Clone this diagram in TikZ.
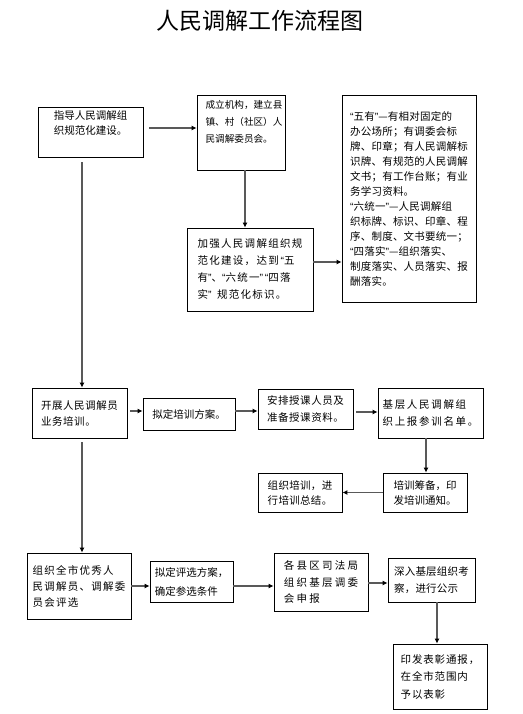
\documentclass[tikz,border=0pt]{standalone}
\usepackage{fontspec}
\newfontfamily\cjk{Noto Sans CJK SC}
\newfontfamily\latq{Liberation Sans}
\newcommand{\oq}{{\latq “}}
\newcommand{\cq}{{\latq ”}}
\newcommand{\ind}{\hspace*{6pt}}
\usetikzlibrary{arrows.meta,calc}
\newcommand{\bt}[2]{\cjk\fontsize{10.5}{#2}\selectfont\addfontfeatures{LetterSpace=#1}}
\newcommand{\bs}[2]{\cjk\fontsize{#1}{#2}\selectfont}
\tikzset{
  box/.style={draw=black, line width=0.8pt, align=left, inner sep=0pt},
  arr/.style={draw=gray!70!black, line width=1.2pt, -{Latex[length=5pt,width=5pt,color=black]}},
}
\begin{document}
\begin{tikzpicture}[x=1pt,y=-1pt]
\useasboundingbox (0,0) rectangle (522,714);
\node (title) at (260,21) {\cjk\fontsize{23}{23}\selectfont 人民调解工作流程图};

\node[box, minimum width=105pt, minimum height=50pt, font=\bt{0}{15}] (b1) at (90.5,132)
  {指导人民调解组\\织规范化建设。\\[4pt]};
\node[box, minimum width=88pt, minimum height=75pt, font=\bs{9.6}{17}] (b2) at (241,132.5)
  {\ind 成立机构，建立县\\\ind 镇、村（社区）人\\\ind 民调解委员会。\\ \strut};
\node[box, minimum width=126pt, minimum height=83pt, font=\bt{12}{17}] (b3) at (250,269.5)
  {加强人民调解组织规\\范化建设，达到\,\oq 五\\有\cq、\oq 六统一\cq\,\oq 四落\\实\cq\, 规范化标识。};
\node[box, minimum width=134pt, minimum height=207pt, font=\bt{2}{15}] (b4) at (409,198.5)
  {\oq 五有\cq—有相对固定的\\办公场所；有调委会标\\牌、印章；有人民调解标\\识牌、有规范的人民调解\\文书；有工作台账；有业\\务学习资料。\\\oq 六统一\cq—人民调解组\\织标牌、标识、印章、程\\序、制度、文书要统一；\\\oq 四落实\cq—组织落实、\\制度落实、人员落实、报\\酬落实。};

\node[box, minimum width=95pt, minimum height=50pt, font=\bt{5}{16}] (b5) at (79.5,413)
  {开展人民调解员\\业务培训。};
\node[box, minimum width=92pt, minimum height=32pt, font=\bt{0}{16}] (b6) at (189,414)
  {拟定培训方案。};
\node[box, minimum width=95pt, minimum height=40pt, font=\bt{5}{17}] (b7) at (305.5,409)
  {安排授课人员及\\准备授课资料。};
\node[box, minimum width=105pt, minimum height=50pt, font=\bt{16}{17}] (b8) at (430.5,413)
  {基层人民调解组\\织上报参训名单。};
\node[box, minimum width=84pt, minimum height=39pt, font=\bt{0}{15}] (b9) at (425,492.5)
  {培训筹备，印\\发培训通知。};
\node[box, minimum width=84pt, minimum height=39pt, font=\bt{3}{15}] (b10) at (300,492.5)
  {组织培训，进\\行培训总结。};

\node[box, minimum width=104pt, minimum height=66pt, font=\bt{12}{16}] (b11) at (79,586)
  {组织全市优秀人\\民调解员、调解委\\员会评选};
\node[box, minimum width=83pt, minimum height=41pt, font=\bt{0}{19}] (b12) at (191.5,581.5)
  {拟定评选方案，\\确定参选条件};
\node[box, minimum width=94pt, minimum height=58pt, font=\bt{21}{16.5}] (b13) at (321,582)
  {各县区司法局\\组织基层调委\\会申报};
\node[box, minimum width=87pt, minimum height=44pt, font=\bt{2}{17}] (b14) at (431.5,580)
  {深入基层组织考\\察，进行公示};
\node[box, minimum width=94pt, minimum height=65pt, font=\bt{8}{17.5}] (b15) at (440,676.5)
  {印发表彰通报，\\在全市范围内\\予以表彰};

% connectors
\draw[arr, shorten <=6pt] ([yshift=4pt]b1.east) -- ([yshift=4pt]b1.east -| b2.west);
\draw[arr] ([xshift=4pt]b2.south) -- ([xshift=4pt]b2.south |- b3.north);
\draw[arr] ([yshift=7.5pt]b3.east) -- ([yshift=7.5pt]b3.east -| b4.west);
\draw[arr, shorten <=5pt] ([xshift=-8.5pt]b1.south) -- ([xshift=-8.5pt]b1.south |- b5.north);
\draw[arr, shorten <=3pt] ([yshift=2pt]b5.east) -- ([yshift=2pt]b5.east -| b6.west);
\draw[arr] ([yshift=3pt]b6.east) -- ([yshift=3pt]b6.east -| b7.west);
\draw[arr, shorten <=3pt] ([yshift=-3pt]b7.east) -- ([yshift=-3pt]b7.east -| b8.west);
\draw[arr] ([xshift=-4.5pt]b8.south) -- ([xshift=-4.5pt]b8.south |- b9.north);
\draw[arr] (b9.west) -- (b9.west -| b10.east);
\draw[arr, shorten <=4pt] ([xshift=2.5pt]b5.south) -- ([xshift=2.5pt]b5.south |- b11.north);
\draw[arr] (b11.east) -- (b11.east -| b12.west);
\draw[arr] ([yshift=-4.5pt]b12.east) -- ([yshift=-4.5pt]b12.east -| b13.west);
\draw[arr] ([yshift=-1pt]b13.east) -- ([yshift=-1pt]b13.east -| b14.west);
\draw[arr] ([xshift=5.5pt]b14.south) -- ([xshift=5.5pt]b14.south |- b15.north);
\end{tikzpicture}
\end{document}
